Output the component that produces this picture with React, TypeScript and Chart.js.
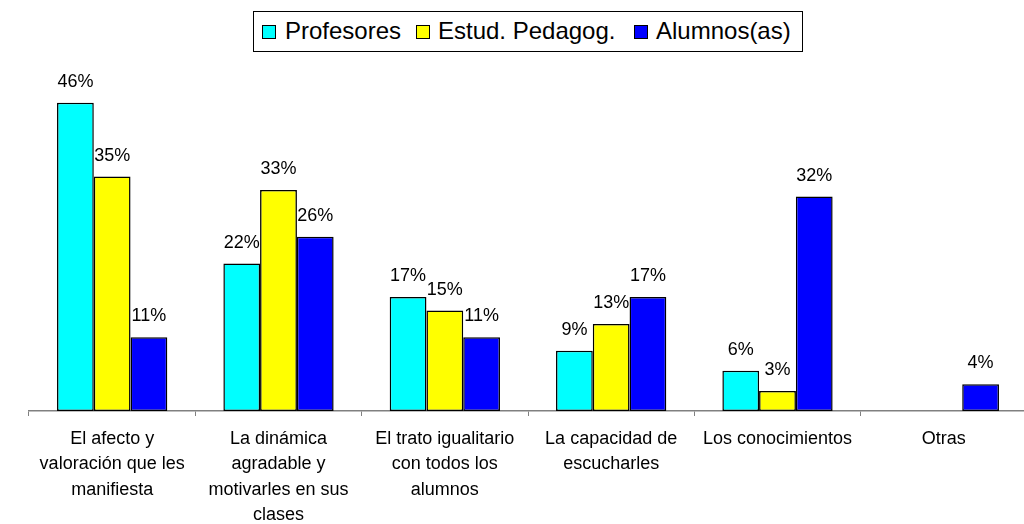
import React, { useEffect, useRef } from "react";
import { Chart, registerables } from "chart.js";

Chart.register(...registerables);

const categories: string[][] = [
  ["El afecto y", "valoración que les", "manifiesta"],
  ["La dinámica", "agradable y", "motivarles en sus", "clases"],
  ["El trato igualitario", "con todos los", "alumnos"],
  ["La capacidad de", "escucharles"],
  ["Los conocimientos"],
  ["Otras"],
];
const seriesNames = ["Profesores", "Estud. Pedagog.", "Alumnos(as)"];
const profesores: (number | null)[] = [46, 22, 17, 9, 6, null];
const estudPedagog: (number | null)[] = [35, 33, 15, 13, 3, null];
const alumnos: (number | null)[] = [11, 26, 11, 17, 32, 4];
const seriesColors = ["#00FFFF", "#FFFF00", "#0000FF"];
const yMin = 0;
const yMax = 50;

// legend layout (page pixels)
const legendSwatchLeft = [262, 416, 634];
const legendTextLeft = [285, 438, 656];

const FONT = '"Liberation Sans", Arial, Helvetica, sans-serif';

const valueLabels = {
  id: "valueLabels",
  beforeDatasetsDraw(chart: any) {
    const ctx = chart.ctx;
    ctx.save();
    ctx.font = `18px ${FONT}`;
    ctx.fillStyle = "#000";
    ctx.textAlign = "center";
    ctx.textBaseline = "alphabetic";
    chart.data.datasets.forEach((ds: any, i: number) => {
      const meta = chart.getDatasetMeta(i);
      meta.data.forEach((bar: any, j: number) => {
        const v = ds.data[j];
        if (v == null) return;
        ctx.fillText(`${v}%`, bar.x, bar.y - 16);
      });
    });
    ctx.restore();
  },
};

export default function App() {
  const canvasRef = useRef<HTMLCanvasElement | null>(null);

  useEffect(() => {
    if (!canvasRef.current) return;
    const seriesData = [profesores, estudPedagog, alumnos];
    const chart = new Chart(canvasRef.current, {
      type: "bar",
      data: {
        labels: categories,
        datasets: seriesNames.map((name, i) => ({
          label: name,
          data: seriesData[i],
          backgroundColor: seriesColors[i],
          borderColor: "#000000",
          borderWidth: 1.5,
          borderSkipped: false,
          categoryPercentage: 0.663,
          barPercentage: 1,
        })),
      },
      options: {
        animation: false,
        responsive: true,
        maintainAspectRatio: false,
        layout: { padding: { top: 76, left: 29, right: 1, bottom: 0 } },
        plugins: {
          legend: { display: false },
          tooltip: { enabled: false },
        },
        scales: {
          x: {
            offset: true,
            grid: {
              offset: true,
              display: true,
              drawOnChartArea: false,
              drawTicks: true,
              tickLength: 5,
              color: "#808080",
              lineWidth: 1,
            },
            border: { display: true, color: "#808080", width: 1.5 },
            ticks: {
              color: "#000000",
              font: { family: FONT, size: 18, lineHeight: "25.5px" },
              padding: 10,
              maxRotation: 0,
              minRotation: 0,
              autoSkip: false,
            },
          },
          y: { display: false, min: yMin, max: yMax },
        },
      } as any,
      plugins: [valueLabels],
    });
    return () => chart.destroy();
  }, []);

  return (
    <div
      style={{
        position: "fixed",
        left: 0,
        top: 0,
        width: 1024,
        height: 524,
        overflow: "hidden",
        background: "#fff",
      }}
    >
      <div style={{ position: "absolute", left: 0, top: 0, width: 1028, height: 538 }}>
        <canvas ref={canvasRef} />
      </div>
      <div
        style={{
          position: "absolute",
          left: 253,
          top: 11,
          width: 550,
          height: 41,
          boxSizing: "border-box",
          border: "1px solid #000",
          background: "#fff",
        }}
      />
      {seriesNames.map((name, i) => (
        <React.Fragment key={name}>
          <span
            style={{
              position: "absolute",
              left: legendSwatchLeft[i],
              top: 25,
              width: 14,
              height: 14,
              boxSizing: "border-box",
              border: "1px solid #000",
              background: seriesColors[i],
            }}
          />
          <span
            style={{
              position: "absolute",
              left: legendTextLeft[i],
              top: 19,
              fontFamily: FONT,
              fontSize: 24,
              lineHeight: "24px",
              color: "#000",
              whiteSpace: "nowrap",
            }}
          >
            {name}
          </span>
        </React.Fragment>
      ))}
    </div>
  );
}
